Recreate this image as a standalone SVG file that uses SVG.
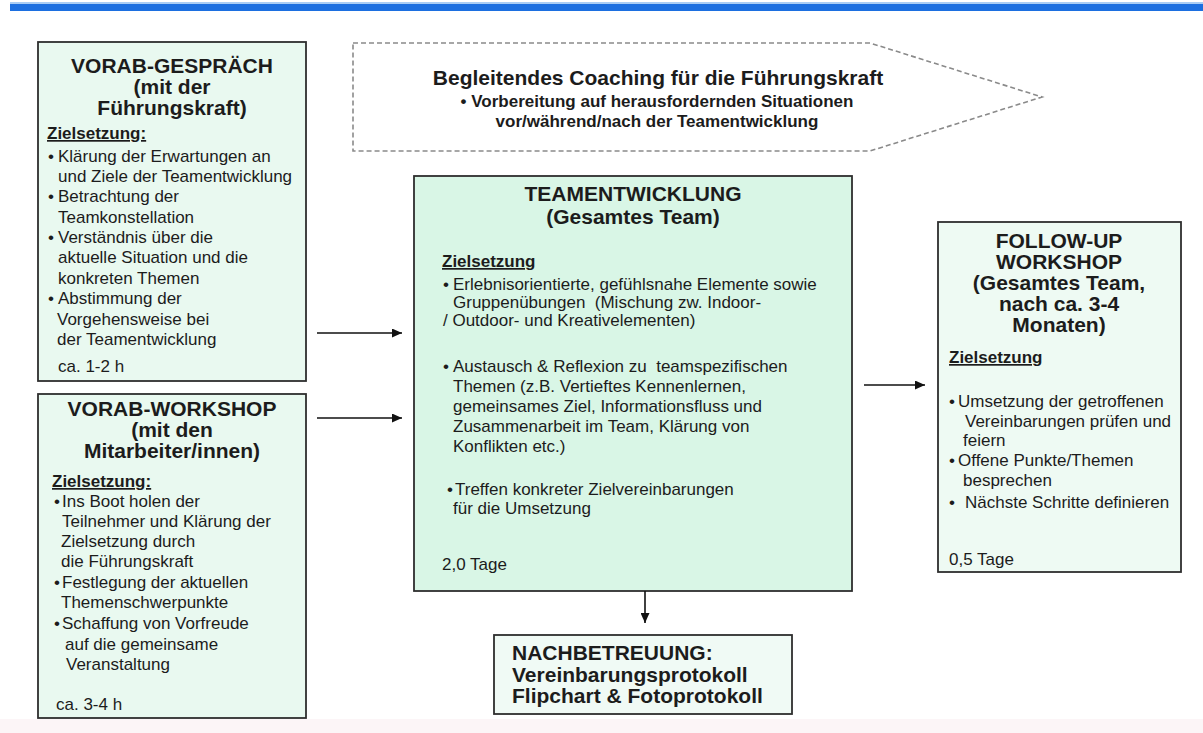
<svg xmlns="http://www.w3.org/2000/svg" width="1203" height="733" viewBox="0 0 1203 733">
<style>
text { font-family: "Liberation Sans", Arial, Helvetica, sans-serif; fill: #1c1c1c; }
.h { font-size: 21px; font-weight: bold; text-anchor: middle; }
.b { font-size: 17px; }
.z { font-size: 17px; font-weight: bold; text-decoration: underline; }
.box { stroke: #2e2e2e; stroke-width: 1.8; }
.conn { stroke: #111; stroke-width: 1.6; fill: none; }
.ct { font-size: 21px; font-weight: bold; text-anchor: middle; }
.cs { font-size: 17px; font-weight: bold; text-anchor: middle; }
.nb { font-size: 21px; font-weight: bold; }
</style>
<defs>
<marker id="ah" viewBox="0 0 10 9" refX="10" refY="4.5" markerWidth="10" markerHeight="9" orient="auto" markerUnits="userSpaceOnUse">
<path d="M0,0 L10,4.5 L0,9 z" fill="#111"/>
</marker>
</defs>
<rect x="0" y="0" width="1203" height="733" fill="#ffffff"/>
<rect x="10" y="2" width="1193" height="2" fill="#a9cdf5"/>
<rect x="10" y="4" width="1193" height="7" fill="#1c6fe0"/>
<rect x="0" y="719" width="1203" height="14" fill="#fcf5f7"/>

<g id="coaching">
<polygon points="353,43 870,43 1042,97 870,151 353,151" fill="#ffffff" stroke="#8a8a8a" stroke-width="1.6" stroke-dasharray="5,3"/>
<text class="ct" x="658" y="85">Begleitendes Coaching für die Führungskraft</text>
<text class="cs" x="657" y="107"><tspan x="657">• Vorbereitung auf herausfordernden Situationen</tspan><tspan x="657" dy="20">vor/während/nach der Teamentwicklung</tspan></text>
</g>

<g id="vorab-gespraech">
<rect class="box" x="38" y="42" width="268" height="339" fill="#e9f9f0"/>
<text class="h" x="172" y="73"><tspan x="172">VORAB-GESPRÄCH</tspan><tspan x="172" dy="21">(mit der</tspan><tspan x="172" dy="21">Führungskraft)</tspan></text>
<text class="z" x="47" y="139">Zielsetzung:</text>
<text class="b" x="48" y="162">•</text>
<text class="b" x="58" y="162">Klärung der Erwartungen an</text>
<text class="b" x="58" y="182">und Ziele der Teamentwicklung</text>
<text class="b" x="48" y="202">•</text>
<text class="b" x="58" y="202">Betrachtung der</text>
<text class="b" x="58" y="223">Teamkonstellation</text>
<text class="b" x="48" y="243">•</text>
<text class="b" x="58" y="243">Verständnis über die</text>
<text class="b" x="58" y="263">aktuelle Situation und die</text>
<text class="b" x="58" y="284">konkreten Themen</text>
<text class="b" x="48" y="304">•</text>
<text class="b" x="58" y="304">Abstimmung der</text>
<text class="b" x="57" y="325">Vorgehensweise bei</text>
<text class="b" x="57" y="345">der Teamentwicklung</text>
<text class="b" x="58" y="372">ca. 1-2 h</text>
</g>

<g id="vorab-workshop">
<rect class="box" x="38" y="394" width="268" height="324" fill="#e9f9f0"/>
<text class="h" x="172" y="416"><tspan x="172">VORAB-WORKSHOP</tspan><tspan x="172" dy="21">(mit den</tspan><tspan x="172" dy="21">Mitarbeiter/innen)</tspan></text>
<text class="z" x="52" y="487">Zielsetzung:</text>
<text class="b" x="54" y="507">•</text>
<text class="b" x="62" y="507">Ins Boot holen der</text>
<text class="b" x="62" y="527">Teilnehmer und Klärung der</text>
<text class="b" x="61" y="547">Zielsetzung durch</text>
<text class="b" x="61" y="567">die Führungskraft</text>
<text class="b" x="54" y="588">•</text>
<text class="b" x="62" y="588">Festlegung der aktuellen</text>
<text class="b" x="61" y="608">Themenschwerpunkte</text>
<text class="b" x="54" y="629">•</text>
<text class="b" x="62" y="629">Schaffung von Vorfreude</text>
<text class="b" x="65" y="650">auf die gemeinsame</text>
<text class="b" x="66" y="670">Veranstaltung</text>
<text class="b" x="56" y="710">ca. 3-4 h</text>
</g>

<g id="teamentwicklung">
<rect class="box" x="414" y="176" width="438" height="415" fill="#d9f6e6"/>
<text class="h" x="633" y="201"><tspan x="633">TEAMENTWICKLUNG</tspan><tspan x="633" dy="23">(Gesamtes Team)</tspan></text>
<text class="z" x="442" y="267">Zielsetzung</text>
<text class="b" x="443" y="290">•</text>
<text class="b" x="453" y="290">Erlebnisorientierte, gefühlsnahe Elemente sowie</text>
<text class="b" x="453" y="308" xml:space="preserve">Gruppenübungen  (Mischung zw. Indoor-</text>
<text class="b" x="443" y="326">/ Outdoor- und Kreativelementen)</text>
<text class="b" x="443" y="372">•</text>
<text class="b" x="453" y="372" xml:space="preserve">Austausch &amp; Reflexion zu  teamspezifischen</text>
<text class="b" x="453" y="392">Themen (z.B. Vertieftes Kennenlernen,</text>
<text class="b" x="453" y="412">gemeinsames Ziel, Informationsfluss und</text>
<text class="b" x="453" y="432">Zusammenarbeit im Team, Klärung von</text>
<text class="b" x="453" y="452">Konflikten etc.)</text>
<text class="b" x="447" y="495">•</text>
<text class="b" x="455" y="495">Treffen konkreter Zielvereinbarungen</text>
<text class="b" x="453" y="514">für die Umsetzung</text>
<text class="b" x="442" y="570">2,0 Tage</text>
</g>

<g id="follow-up">
<rect class="box" x="938" y="222" width="243" height="350" fill="#eefaf3"/>
<text class="h" x="1059" y="248"><tspan x="1059">FOLLOW-UP</tspan><tspan x="1059" dy="21">WORKSHOP</tspan><tspan x="1059" dy="21">(Gesamtes Team,</tspan><tspan x="1059" dy="21">nach ca. 3-4</tspan><tspan x="1059" dy="21">Monaten)</tspan></text>
<text class="z" x="949" y="363">Zielsetzung</text>
<text class="b" x="949" y="407">•</text>
<text class="b" x="958" y="407">Umsetzung der getroffenen</text>
<text class="b" x="965" y="427">Vereinbarungen prüfen und</text>
<text class="b" x="963" y="446">feiern</text>
<text class="b" x="949" y="466">•</text>
<text class="b" x="958" y="466">Offene Punkte/Themen</text>
<text class="b" x="963" y="486">besprechen</text>
<text class="b" x="949" y="508">•</text>
<text class="b" x="965" y="508">Nächste Schritte definieren</text>
<text class="b" x="949" y="565">0,5 Tage</text>
</g>

<g id="nachbetreuung">
<rect class="box" x="494" y="635" width="298" height="79" fill="#f0faf5"/>
<text class="nb" x="512" y="660"><tspan x="512">NACHBETREUUNG:</tspan><tspan x="512" dy="22">Vereinbarungsprotokoll</tspan><tspan x="512" dy="21">Flipchart &amp; Fotoprotokoll</tspan></text>
</g>

<g id="connectors">
<line class="conn" x1="317" y1="333" x2="402" y2="333" marker-end="url(#ah)"/>
<line class="conn" x1="317" y1="418" x2="402" y2="418" marker-end="url(#ah)"/>
<line class="conn" x1="864" y1="385" x2="925" y2="385" marker-end="url(#ah)"/>
<line class="conn" x1="645" y1="591" x2="645" y2="623" marker-end="url(#ah)"/>
</g>
</svg>
